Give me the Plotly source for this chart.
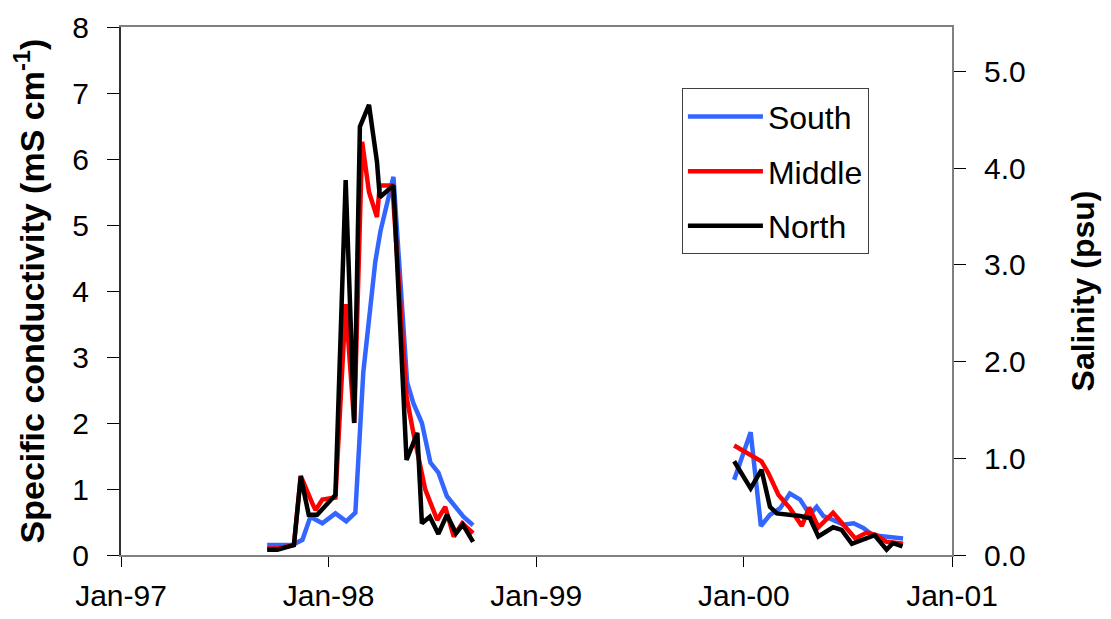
import plotly.graph_objects as go

# ---- data ----
south_dates = ["1997-09-15", "1997-10-29", "1997-11-16", "1997-11-30", "1997-12-21",
               "1998-01-13", "1998-02-01", "1998-02-17", "1998-03-03", "1998-03-16",
               "1998-03-24", "1998-04-02", "1998-04-25", "1998-05-19", "1998-05-30",
               "1998-06-14", "1998-06-29", "1998-07-13", "1998-07-28", "1998-08-26",
               "1998-09-12", "1999-06-01",
               "1999-12-15", "2000-01-13", "2000-01-31", "2000-02-16", "2000-03-05",
               "2000-03-22", "2000-04-09", "2000-04-26", "2000-05-08", "2000-05-20",
               "2000-06-06", "2000-06-24", "2000-07-12", "2000-07-29", "2000-08-15",
               "2000-09-08", "2000-10-07"]
south_vals = [0.15, 0.15, 0.23, 0.58, 0.48,
              0.63, 0.51, 0.64, 2.77, 3.72,
              4.44, 4.90, 5.73, 2.62, 2.30,
              2.00, 1.40, 1.25, 0.89, 0.58,
              0.45, None,
              1.14, 1.86, 0.44, 0.61, 0.71,
              0.93, 0.84, 0.61, 0.73, 0.59,
              0.53, 0.46, 0.48, 0.41, 0.30,
              0.28, 0.25]

middle_dates = ["1997-09-15", "1997-10-03", "1997-11-01", "1997-11-13", "1997-12-03",
                "1997-12-09", "1997-12-21", "1998-01-13", "1998-01-31", "1998-02-15",
                "1998-03-01", "1998-03-13", "1998-03-27", "1998-04-01", "1998-04-23",
                "1998-05-18", "1998-05-30", "1998-06-20", "1998-07-11", "1998-07-25",
                "1998-08-09", "1998-08-24", "1998-09-12", "1999-06-01",
                "1999-12-15", "2000-02-01", "2000-02-13", "2000-03-02", "2000-03-22",
                "2000-04-12", "2000-04-25", "2000-05-11", "2000-06-06", "2000-06-27",
                "2000-07-15", "2000-08-04", "2000-08-21", "2000-09-08", "2000-09-19",
                "2000-10-07"]
middle_vals = [0.10, 0.10, 0.15, 1.20, 0.79,
               0.68, 0.84, 0.87, 3.80, 2.00,
               6.26, 5.50, 5.12, 5.60, 5.60,
               2.40, 1.85, 0.99, 0.53, 0.73,
               0.28, 0.48, 0.33, None,
               1.66, 1.42, 1.24, 0.91, 0.71,
               0.44, 0.72, 0.42, 0.64, 0.43,
               0.25, 0.34, 0.30, 0.20, 0.19,
               0.17]

north_dates = ["1997-09-15", "1997-10-03", "1997-11-01", "1997-11-13", "1997-11-27",
               "1997-12-12", "1998-01-13", "1998-01-31", "1998-02-15", "1998-02-25",
               "1998-03-13", "1998-03-27", "1998-04-01", "1998-04-25", "1998-05-18",
               "1998-06-06", "1998-06-14", "1998-06-28", "1998-07-13", "1998-07-28",
               "1998-08-13", "1998-08-25", "1998-09-12", "1999-06-01",
               "1999-12-15", "2000-01-13", "2000-02-01", "2000-02-16", "2000-02-28",
               "2000-03-22", "2000-04-09", "2000-04-26", "2000-05-11", "2000-06-06",
               "2000-06-21", "2000-07-09", "2000-08-18", "2000-09-08", "2000-09-19",
               "2000-10-06"]
north_vals = [0.08, 0.08, 0.15, 1.19, 0.61,
              0.61, 0.91, 5.68, 2.00, 6.49,
              6.82, 5.96, 5.42, 5.60, 1.44,
              1.85, 0.48, 0.58, 0.32, 0.61,
              0.33, 0.46, 0.20, None,
              1.42, 1.01, 1.29, 0.73, 0.63,
              0.61, 0.59, 0.56, 0.28, 0.42,
              0.38, 0.17, 0.30, 0.08, 0.18,
              0.13]

x_tick_vals = ["1997-01-01", "1998-01-01", "1999-01-01", "2000-01-01", "2001-01-01"]
x_tick_text = ["Jan-97", "Jan-98", "Jan-99", "Jan-00", "Jan-01"]
left_ticks = [0, 1, 2, 3, 4, 5, 6, 7, 8]
right_ticks = [0, 1, 2, 3, 4, 5]
right_tick_text = ["0.0", "1.0", "2.0", "3.0", "4.0", "5.0"]

FONT = "Liberation Sans, Arial, sans-serif"

fig = go.Figure()
series = [("South", south_dates, south_vals, "#3366FF"),
          ("Middle", middle_dates, middle_vals, "#FF0000"),
          ("North", north_dates, north_vals, "#000000")]
for name, d, v, c in series:
    fig.add_trace(go.Scatter(x=d, y=v, mode="lines", name=name, legendgroup=name,
                             line=dict(color=c, width=4.5), connectgaps=False))

# dummy trace to make the secondary axis render
fig.add_trace(go.Scatter(x=[None], y=[None], yaxis="y2", showlegend=False,
                         hoverinfo="skip"))

fig.update_layout(
    width=1111, height=619,
    margin=dict(l=113, r=167, t=19, b=72, autoexpand=False),
    paper_bgcolor="white", plot_bgcolor="white",
    font=dict(family=FONT, size=30, color="black"),
    showlegend=True,
    legend=dict(x=0.675, y=0.884, xanchor="left", yanchor="top",
                bgcolor="white", bordercolor="#404040", borderwidth=1,
                font=dict(family=FONT, size=32, color="black"),
                tracegroupgap=10, itemwidth=75),
    xaxis=dict(type="date", range=["1997-01-01", "2001-01-01"],
               tickvals=x_tick_vals, ticktext=x_tick_text,
               ticks="outside", ticklen=10, tickcolor="black", tickwidth=1,
               ticklabelstandoff=3,
               showline=True, linecolor="#808080", linewidth=2, mirror=True,
               showgrid=False, zeroline=False, automargin=False,
               tickfont=dict(family=FONT, size=30)),
    yaxis=dict(range=[0, 8], tickvals=left_ticks,
               ticks="outside", ticklen=12, tickcolor="black", tickwidth=1,
               ticklabelstandoff=12,
               showline=True, linecolor="#303030", linewidth=2,
               showgrid=False, zeroline=False, automargin=False,
               tickfont=dict(family=FONT, size=30),
               title=dict(text="<b>Specific conductivity (mS cm<sup>-1</sup>)</b>",
                          font=dict(family=FONT, size=34), standoff=18)),
    yaxis2=dict(overlaying="y", side="right", range=[0, 5.46],
                tickvals=right_ticks, ticktext=right_tick_text,
                ticks="outside", ticklen=12, tickcolor="black", tickwidth=1,
                ticklabelstandoff=12,
                showline=True, linecolor="#808080", linewidth=2,
                showgrid=False, zeroline=False, automargin=False,
                tickfont=dict(family=FONT, size=30),
                title=dict(text="<b>Salinity (psu)</b>",
                           font=dict(family=FONT, size=32), standoff=47)),
)

fig.write_html("out.html")
